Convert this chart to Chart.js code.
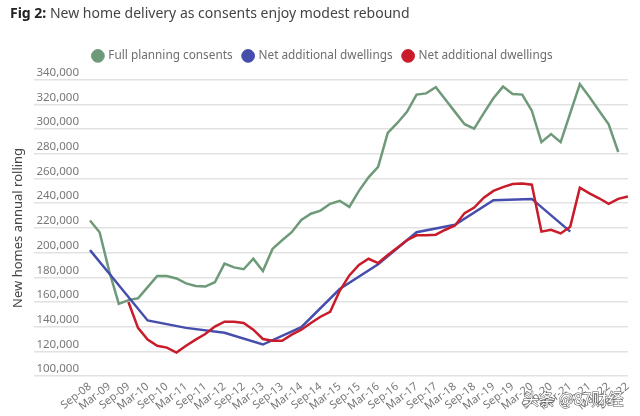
<!DOCTYPE html>
<html>
<head>
<meta charset="utf-8">
<script src="https://cdn.jsdelivr.net/npm/chart.js@4"></script>
<style>
  html, body { margin: 0; padding: 0; background: #fff; }
  #wrap { position: relative; width: 640px; height: 416px; }
  #title { position: absolute; left: 10px; top: 3px; font: 14px "Noto Sans", sans-serif; color: #444; white-space: nowrap; }
  #title b { color: #222; }
  #mark { position: absolute; left: 523px; top: 386px; font: 16px "Noto Sans CJK SC", sans-serif; color: #fff;
          -webkit-text-stroke: 1px #555; paint-order: stroke fill; white-space: nowrap; }
</style>
</head>
<body>
<div id="wrap">
  <canvas id="graph" width="640" height="416"></canvas>
  <div id="title"><b>Fig 2:</b> New home delivery as consents enjoy modest rebound</div>
  <div id="mark">头条 @87财经</div>
</div>
<script>
var ctx = document.getElementById('graph');

// quarterly, Sep-08 .. Sep-22
var quarters = [
  'Sep-08', 'Dec-08', 'Mar-09', 'Jun-09', 'Sep-09', 'Dec-09', 'Mar-10', 'Jun-10', 'Sep-10', 'Dec-10',
  'Mar-11', 'Jun-11', 'Sep-11', 'Dec-11', 'Mar-12', 'Jun-12', 'Sep-12', 'Dec-12', 'Mar-13', 'Jun-13',
  'Sep-13', 'Dec-13', 'Mar-14', 'Jun-14', 'Sep-14', 'Dec-14', 'Mar-15', 'Jun-15', 'Sep-15', 'Dec-15',
  'Mar-16', 'Jun-16', 'Sep-16', 'Dec-16', 'Mar-17', 'Jun-17', 'Sep-17', 'Dec-17', 'Mar-18', 'Jun-18',
  'Sep-18', 'Dec-18', 'Mar-19', 'Jun-19', 'Sep-19', 'Dec-19', 'Mar-20', 'Jun-20', 'Sep-20', 'Dec-20',
  'Mar-21', 'Jun-21', 'Sep-21', 'Dec-21', 'Mar-22', 'Jun-22', 'Sep-22'
];

var consents = [
  226000, 216500, 185000, 158500, 161500, 163000, 172000, 181000, 181000, 179000,
  175000, 173000, 172500, 176000, 191000, 188000, 186500, 195000, 185000, 203000,
  210000, 216500, 226500, 231500, 234000, 239500, 242000, 237000, 250000, 261000,
  269500, 297000, 305000, 314000, 328000, 329000, 334000, 324000, 314000, 304000,
  300500, 313000, 325000, 334500, 328500, 328000, 315000, 289500, 296000, 289500,
  313000, 336500, 326000, 315000, 304000, 281500
];

// annual figures (year to March), plotted on their quarter
var netAnnual = [
  202000, null, 183000, null, null, null, 145000, null, null, null,
  139000, null, null, null, 135000, null, null, null, 125500, null,
  null, null, 139500, null, null, null, 170500, null, null, null,
  190500, null, null, null, 216500, null, null, null, 222500, null,
  null, null, 242500, null, null, null, 243500, null, null, null,
  217000
];

var netQuarterly = [
  null, null, null, null, 160000, 139000, 129500, 124500, 123000, 119000,
  124500, 129500, 134000, 140000, 144000, 144000, 143000, 137500, 130000, 128500,
  128500, 133500, 137500, 143000, 148000, 152000, 169000, 181500, 190000, 195000,
  191500, 198000, 204000, 210000, 214000, 214000, 214500, 218500, 222000, 232000,
  236500, 244500, 250000, 253000, 255500, 256000, 255000, 217000, 218500, 215500,
  221000, 252500, 248000, 244000, 239500, 243500, 245500
];

var seriesNames = ['Full planning consents', 'Net additional dwellings', 'Net additional dwellings'];

window.chartColors = {
  green: 'rgb(110, 154, 122)',
  blue: 'rgb(70, 78, 172)',
  red: 'rgb(200, 28, 42)',
  grid: 'rgb(226, 226, 226)',
  text: 'rgb(120, 120, 120)'
};

Chart.defaults.font.family = '"Noto Sans", sans-serif';

// a bit more room between the legend and the plot
var legendGap = {
  id: 'legendGap',
  beforeInit: function (chart) {
    var fit = chart.legend.fit;
    chart.legend.fit = function () {
      fit.call(this);
      this.height += 8;
    };
  }
};

var config = {
  type: 'line',
  data: {
    labels: quarters,
    datasets: [{
      label: seriesNames[0],
      data: consents,
      borderColor: window.chartColors.green,
      backgroundColor: window.chartColors.green,
      order: 2
    }, {
      label: seriesNames[1],
      data: netAnnual,
      borderColor: window.chartColors.blue,
      backgroundColor: window.chartColors.blue,
      spanGaps: true,
      order: 1
    }, {
      label: seriesNames[2],
      data: netQuarterly,
      borderColor: window.chartColors.red,
      backgroundColor: window.chartColors.red,
      order: 0
    }]
  },
  options: {
    responsive: false,
    animation: false,
    layout: { padding: { top: 39, right: 8, left: 14, bottom: 0 } },
    elements: {
      line: { borderWidth: 2.5, tension: 0 },
      point: { radius: 0, hoverRadius: 0 }
    },
    plugins: {
      legend: {
        position: 'top',
        labels: {
          usePointStyle: true,
          pointStyle: 'circle',
          boxWidth: 9,
          boxHeight: 9,
          padding: 11,
          color: 'rgb(110, 110, 110)',
          font: { size: 11.8 },
          sort: function (a, b) { return a.datasetIndex - b.datasetIndex; }
        }
      },
      tooltip: { enabled: false }
    },
    scales: {
      x: {
        grid: { display: false, drawTicks: false },
        border: { display: false },
        ticks: {
          autoSkip: false,
          minRotation: 38,
          maxRotation: 38,
          padding: 4,
          color: window.chartColors.text,
          font: { size: 11 },
          callback: function (v, i) { return i % 2 === 0 ? this.getLabelForValue(v) : ''; }
        },
        afterFit: function (s) { s.height = 40; }
      },
      y: {
        min: 100000,
        max: 340000,
        grid: { color: window.chartColors.grid, lineWidth: 1.5, tickLength: 56 },
        border: { display: false },
        ticks: {
          stepSize: 20000,
          padding: -45,
          labelOffset: -7,
          color: window.chartColors.text,
          font: { size: 11.5 },
          callback: function (v) { return v.toLocaleString('en-US'); }
        },
        title: {
          display: true,
          text: 'New homes annual rolling',
          color: 'rgb(70, 70, 70)',
          font: { size: 13 },
          padding: { top: -4, bottom: 0 }
        },
        afterFit: function (s) { s.width = 76; }
      }
    }
  },
  plugins: [legendGap]
};

var myChart = new Chart(ctx, config);
</script>
</body>
</html>
